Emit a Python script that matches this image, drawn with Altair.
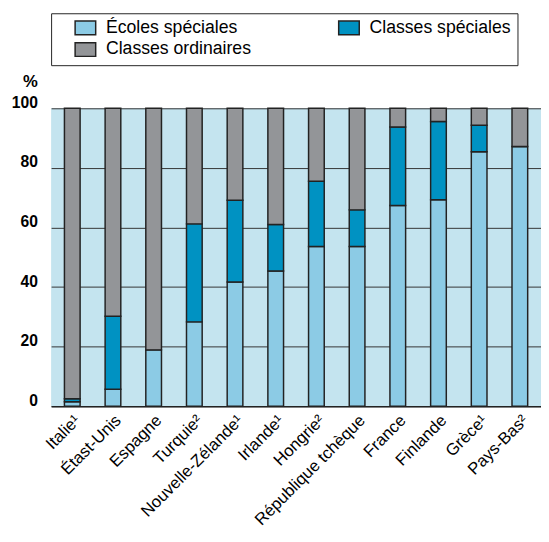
import altair as alt
import pandas as pd

countries = ["Italie¹", "Étast-Unis", "Espagne", "Turquie²", "Nouvelle-Zélande¹",
             "Irlande¹", "Hongrie²", "République tchèque", "France", "Finlande",
             "Grèce¹", "Pays-Bas²"]
categories = ["Écoles spéciales", "Classes spéciales", "Classes ordinaires"]
ecoles = [1.5, 5.7, 18.9, 28.3, 41.7, 45.4, 53.6, 53.6, 67.4, 69.3, 85.4, 87.2]
speciales = [1.0, 24.5, 0.0, 32.9, 27.4, 15.6, 21.9, 12.3, 26.3, 26.3, 8.9, 0.0]
ordinaires = [97.5, 69.8, 81.1, 38.8, 30.9, 39.0, 24.5, 34.1, 6.3, 4.4, 5.7, 12.8]
colors = ["#8ccbe5", "#0092c2", "#939598"]

rows = []
for series_idx, series in enumerate([ecoles, speciales, ordinaires]):
    for c, v in zip(countries, series):
        rows.append({"pays": c, "type": categories[series_idx], "ordre": series_idx, "valeur": v})
df = pd.DataFrame(rows)

FONT = "Liberation Sans"

chart = alt.Chart(df).mark_bar(size=16, stroke="#222222", strokeWidth=1.5).encode(
    x=alt.X("pays:N", sort=countries, title=None,
            scale=alt.Scale(paddingInner=0.6, paddingOuter=0.32),
            axis=alt.Axis(labelAngle=-45, labelFontSize=17, labelFont=FONT, labelColor="#000",
                          ticks=False, domainColor="#222", domainWidth=1.5, labelPadding=6,
                          grid=False)),
    y=alt.Y("valeur:Q", stack="zero", scale=alt.Scale(domain=[0, 100], nice=False),
            axis=alt.Axis(values=[0, 20, 40, 60, 80, 100], title="%", titleAngle=0,
                          titleX=-14, titleY=-27, titleFontSize=17, titleFont=FONT,
                          titleFontWeight="bold", titleAlign="right", titleBaseline="middle",
                          titleColor="#000",
                          labelFont=FONT, labelFontSize=16, labelFontWeight="bold",
                          labelColor="#000", labelPadding=14, labelOffset=-6,
                          ticks=False, domain=False, grid=True, gridColor="#333",
                          gridWidth=1)),
    color=alt.Color("type:N", scale=alt.Scale(domain=categories, range=colors),
                    legend=alt.Legend(title=None,
                                      orient="none", legendX=0, legendY=-97,
                                      columns=2, direction="horizontal",
                                      columnPadding=70, rowPadding=2, padding=6,
                                      strokeColor="#222", symbolOffset=20,
                                      symbolType="M-1.5,-1H1.5V1H-1.5Z", symbolSize=196,
                                      symbolStrokeColor="#222", symbolStrokeWidth=1.5,
                                      labelFont=FONT, labelFontSize=18, labelColor="#000",
                                      labelOffset=12, labelLimit=300)),
    order=alt.Order("ordre:Q", sort="ascending"),
).properties(
    width=500, height=304,
    background="white",
    autosize=alt.AutoSizeParams(type="none"),
    padding={"left": 44, "top": 97, "right": 0, "bottom": 120},
).configure_view(fill="#c4e4ef", stroke=None)

chart.save("out.html", embed_options={"renderer": "svg", "actions": False})
